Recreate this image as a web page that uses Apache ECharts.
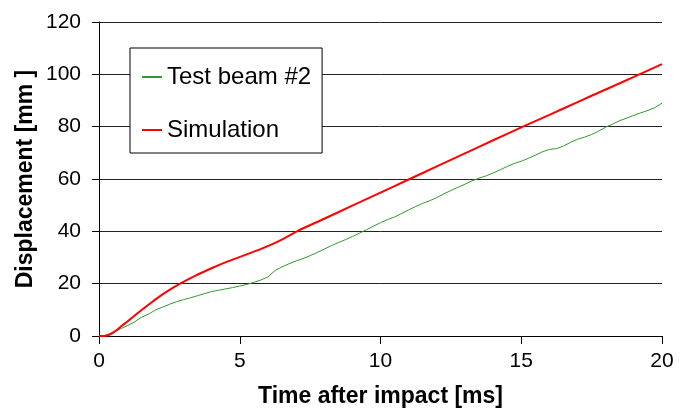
<!DOCTYPE html>
<html>
<head>
<meta charset="utf-8">
<script src="https://cdn.jsdelivr.net/npm/echarts@6/dist/echarts.min.js"></script>
<style>html,body{margin:0;padding:0;background:#fff}#c{width:685px;height:413px}</style>
</head>
<body>
<div id="c"></div>
<script>
var timeMs = [0,0.25,0.5,0.75,1,1.25,1.5,1.75,2,2.25,2.5,2.75,3,3.25,3.5,3.75,4,4.25,4.5,4.75,5,5.25,5.5,5.75,6,6.25,6.5,6.75,7,7.25,7.5,7.75,8,8.25,8.5,8.75,9,9.25,9.5,9.75,10,10.25,10.5,10.75,11,11.25,11.5,11.75,12,12.25,12.5,12.75,13,13.25,13.5,13.75,14,14.25,14.5,14.75,15,15.25,15.5,15.75,16,16.25,16.5,16.75,17,17.25,17.5,17.75,18,18.25,18.5,18.75,19,19.25,19.5,19.75,20];
var testBeam = [-0.5,0.4,1.3,2.7,3.9,5.3,7.1,8.3,9.9,11.0,12.1,13.1,13.9,14.6,15.4,16.2,17.0,17.5,18.0,18.5,19.1,19.7,20.5,21.4,22.6,25.0,26.4,27.6,28.7,29.6,30.7,31.9,33.2,34.5,35.7,36.8,38.0,39.3,40.6,42.0,43.3,44.5,45.5,46.8,48.2,49.5,50.7,51.7,52.9,54.3,55.6,56.8,58.0,59.3,60.3,61.2,62.3,63.5,64.8,65.9,66.8,67.9,69.1,70.4,71.3,71.6,72.6,74.0,75.2,76.0,77.0,78.3,79.8,81.0,82.3,83.3,84.3,85.3,86.2,87.3,89.0];
var simTime = [0,0.3,0.57,0.8,1.04,1.3,1.63,1.9,2.23,2.55,2.88,3.41,4.0,4.6,5.2,5.78,6.2,6.6,7.03,8,9,10,11,12,13,14,15,16,17,18,19,20];
var simulation = [0,0.2,1.8,3.8,5.8,8.1,10.9,13.1,15.7,17.9,20.0,23.0,25.9,28.6,31.0,33.4,35.3,37.4,40.0,44.8,49.8,54.8,59.8,64.8,69.8,74.8,79.7,84.5,89.4,94.2,99.0,103.9];
var seriesNames = ['Test beam #2', 'Simulation'];
var xTicks = [0,5,10,15,20];
var yTicks = [0,20,40,60,80,100,120];

function pairs(xs, ys){ return xs.map(function(x,i){ return [x, ys[i]]; }); }

var chart = echarts.init(document.getElementById('c'), null, {renderer:'canvas'});
var font = '"Liberation Sans", Arial, sans-serif';
chart.setOption({
  animation: false,
  grid: {left: 99, right: 23, top: 22, bottom: 75},
  legend: {
    orient: 'vertical', left: 130, top: 48,
    backgroundColor: '#fff', borderColor: '#000', borderWidth: 1,
    padding: [17, 11, 11, 12],
    icon: 'rect',
    itemWidth: 20, itemHeight: 2, itemGap: 29,
    textStyle: {fontFamily: font, fontSize: 24, color: '#000', lineHeight: 24},
    data: seriesNames
  },
  xAxis: {
    type: 'value', min: xTicks[0], max: xTicks[xTicks.length-1], interval: 5,
    name: 'Time after impact [ms]', nameLocation: 'middle', nameGap: 49,
    nameMoveOverlap: false,
    nameTextStyle: {fontFamily: font, fontSize: 23, fontWeight: 'bold', color: '#000'},
    axisLine: {onZero: false, lineStyle: {color: '#000', width: 1}},
    axisTick: {show: true, length: 8, inside: false, lineStyle: {color: '#000'}},
    axisLabel: {fontFamily: font, fontSize: 21, color: '#000', margin: 15},
    splitLine: {show: false}
  },
  yAxis: {
    type: 'value', min: yTicks[0], max: yTicks[yTicks.length-1], interval: 20,
    name: 'Displacement [mm ]', nameLocation: 'middle', nameGap: 62,
    nameMoveOverlap: false,
    nameTextStyle: {fontFamily: font, fontSize: 23, fontWeight: 'bold', color: '#000'},
    axisLine: {show: true, lineStyle: {color: '#000', width: 1}},
    axisTick: {show: true, length: 7, lineStyle: {color: '#000'}},
    axisLabel: {fontFamily: font, fontSize: 21, color: '#000', margin: 18},
    splitLine: {show: true, lineStyle: {color: '#222', width: 1}}
  },
  series: [
    {name: seriesNames[0], type: 'line', data: pairs(timeMs, testBeam), symbol: 'none', smooth: false,
     lineStyle: {color: '#2f9a2f', width: 1}, itemStyle: {color: '#2f9a2f'}, z: 3},
    {name: seriesNames[1], type: 'line', data: pairs(simTime, simulation), symbol: 'none', smooth: 0.3,
     lineStyle: {color: '#ff0000', width: 2}, itemStyle: {color: '#ff0000'}, z: 4}
  ]
});
</script>
</body>
</html>
